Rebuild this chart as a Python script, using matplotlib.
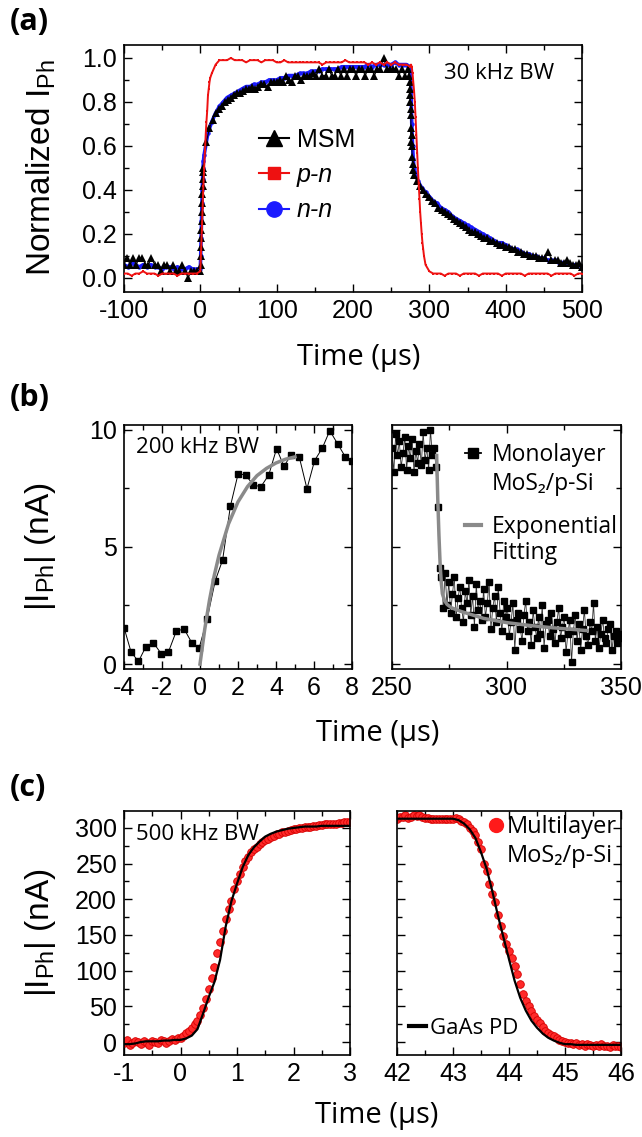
import numpy as np
import matplotlib
matplotlib.use('Agg')
import matplotlib.pyplot as plt
from matplotlib.lines import Line2D
from matplotlib.ticker import MultipleLocator, FormatStrFormatter

plt.rcParams['font.family'] = ['Liberation Sans', 'DejaVu Sans']
plt.rcParams['axes.unicode_minus'] = False
plt.rcParams['mathtext.fontset'] = 'custom'
plt.rcParams['mathtext.rm'] = 'Liberation Sans'
plt.rcParams['mathtext.it'] = 'Liberation Sans:italic'
plt.rcParams['mathtext.bf'] = 'Liberation Sans:bold'

# ---------------- data: panel (a) ----------------
# MSM (black triangles), sampled every 4 us from -100 to 500
msm_t = list(range(-100, 501, 4))
msm_y = [0.06, 0.09, 0.06, 0.09, 0.06, 0.09, 0.09, 0.06, 0.06, 0.09,
         0.06, 0.06, 0.03, 0.06, 0.06, 0.03, 0.06, 0.03, 0.03, 0.06,
         0.03, 0.00, 0.03, 0.03, 0.03,
         0.03, 0.50, 0.62, 0.68, 0.72, 0.75, 0.77, 0.78, 0.80, 0.81,
         0.82, 0.83, 0.84, 0.84, 0.85, 0.86, 0.86, 0.87, 0.86, 0.87,
         0.88, 0.88, 0.87, 0.89, 0.89, 0.89,
         0.90, 0.89, 0.92, 0.90, 0.89, 0.92, 0.92, 0.90, 0.92, 0.92,
         0.92, 0.93, 0.92, 0.95, 0.92, 0.92, 0.95, 0.92, 0.92, 0.95,
         0.92, 0.95, 0.92, 0.95, 0.95, 0.92, 0.95, 0.95, 0.92, 0.95,
         0.95, 0.92, 0.95, 0.95, 1.00, 0.95, 0.95, 0.95, 0.95, 0.92,
         0.95, 0.92, 0.95,
         0.62,
         0.47, 0.44, 0.42, 0.40, 0.38, 0.37, 0.35, 0.34, 0.32, 0.31,
         0.30, 0.29, 0.28, 0.27, 0.26, 0.25, 0.24, 0.23, 0.22, 0.21,
         0.21, 0.20, 0.19, 0.18, 0.18, 0.17, 0.17, 0.16, 0.15, 0.15,
         0.14, 0.14, 0.13, 0.13, 0.12, 0.12, 0.11, 0.11, 0.10, 0.10,
         0.10, 0.09, 0.09, 0.09, 0.12, 0.08, 0.08, 0.08, 0.07, 0.07,
         0.08, 0.07, 0.06, 0.06, 0.07, 0.05]
# extra MSM samples on the fast edges
msm_edge_t = [0.3, 0.6, 0.9, 1.2, 1.5, 1.8, 2.1, 2.4, 2.7, 3.0, 3.3, 3.6,
              274, 274.3, 274.6, 274.9, 275.2, 275.5, 275.8, 276.4, 276.7,
              277, 277.5, 278, 279]
msm_edge_y = [0.06, 0.10, 0.14, 0.18, 0.22, 0.26, 0.30, 0.34, 0.38, 0.42, 0.45, 0.48,
              0.92, 0.89, 0.86, 0.83, 0.80, 0.77, 0.74, 0.68, 0.65,
              0.60, 0.55, 0.52, 0.49]

# n-n (blue), every 5 us
nn_t = list(range(-100, 501, 5))
nn_y = [0.06, 0.05, 0.07, 0.06, 0.05, 0.06, 0.05, 0.06, 0.05, 0.05,
        0.04, 0.05, 0.05, 0.04, 0.05, 0.04, 0.04, 0.05, 0.04, 0.04,
        0.04, 0.56, 0.66, 0.71, 0.75, 0.78, 0.80, 0.82, 0.83, 0.84,
        0.85, 0.86, 0.87, 0.87, 0.88, 0.88, 0.89, 0.89, 0.90, 0.90,
        0.90, 0.91, 0.91, 0.92, 0.92, 0.92, 0.93, 0.93, 0.93, 0.94,
        0.94, 0.94, 0.95, 0.95, 0.95, 0.95, 0.95, 0.96, 0.96, 0.96,
        0.96, 0.96, 0.96, 0.96, 0.97, 0.96, 0.97, 0.97, 0.97, 0.97,
        0.97, 0.98, 0.97, 0.97, 0.97,
        0.96, 0.50, 0.44, 0.41, 0.39, 0.37, 0.35, 0.34, 0.32, 0.31,
        0.30, 0.28, 0.27, 0.26, 0.25, 0.24, 0.23, 0.22, 0.21, 0.20,
        0.19, 0.18, 0.17, 0.16, 0.16, 0.15, 0.14, 0.13, 0.13, 0.12,
        0.11, 0.11, 0.10, 0.10, 0.09, 0.09, 0.08, 0.08, 0.08, 0.07,
        0.07, 0.07, 0.06, 0.06, 0.06, 0.05]
nn_edge_t = [0.5, 1, 1.5, 2, 2.5, 3, 3.5, 4, 276, 277, 278, 279]
nn_edge_y = [0.10, 0.18, 0.26, 0.34, 0.40, 0.45, 0.50, 0.53, 0.85, 0.70, 0.60, 0.54]

# p-n (red), every 5 us
pn_t = list(range(-100, 501, 5))
pn_y = [0.02, 0.02, 0.01, 0.02, 0.02, 0.03, 0.02, 0.02, 0.02, 0.01,
        0.02, 0.02, 0.02, 0.02, 0.01, 0.02, 0.02, 0.02, 0.02, 0.02,
        0.03, 0.50, 0.83, 0.93, 0.97, 0.99, 0.99, 0.99, 1.00, 0.99,
        0.99, 0.99, 0.98, 0.99, 0.99, 0.99, 0.98, 0.99, 0.99, 0.99,
        0.98, 0.98, 0.99, 0.98, 0.98, 0.98, 0.98, 0.98, 0.98, 0.98,
        0.98, 0.98, 0.97, 0.98, 0.98, 0.98, 0.98, 0.98, 0.99, 0.98,
        0.98, 0.98, 0.98, 0.98, 0.97, 0.98, 0.97, 0.98, 0.97, 0.98,
        0.97, 0.98, 0.97, 0.97, 0.97,
        0.96, 0.85, 0.50, 0.20, 0.06, 0.03, 0.02, 0.02, 0.02, 0.01,
        0.02, 0.02, 0.02, 0.01, 0.02, 0.02, 0.02, 0.02, 0.01, 0.02,
        0.02, 0.02, 0.02, 0.02, 0.01, 0.02, 0.02, 0.02, 0.02, 0.02,
        0.01, 0.02, 0.02, 0.02, 0.02, 0.02, 0.02, 0.01, 0.02, 0.02,
        0.02, 0.02, 0.02, 0.01, 0.02, 0.02]
pn_edge_t = [1, 2, 3, 4, 6, 7, 8, 9, 11, 12, 13,
             276, 277, 278, 279, 281, 282, 283, 284, 286, 287, 288, 289, 291, 292, 293]
pn_edge_y = [0.12, 0.22, 0.32, 0.42, 0.58, 0.65, 0.71, 0.76, 0.86, 0.89, 0.91,
             0.97, 0.96, 0.93, 0.89, 0.80, 0.73, 0.65, 0.57, 0.43, 0.36, 0.30, 0.25, 0.16, 0.13, 0.10]

# ---------------- data: panel (b) ----------------
b_rise_t = [-4.0, -3.63, -3.24, -2.85, -2.46, -2.03, -1.66, -1.24, -0.83, -0.44,
            -0.05, 0.38, 0.80, 1.19, 1.60, 2.01, 2.40, 2.81, 3.20, 3.62,
            4.03, 4.42, 4.79, 5.22, 5.63, 6.03, 6.44, 6.83, 7.24, 7.65, 8.0]
b_rise_y = [1.56, 0.52, 0.11, 0.74, 0.92, 0.43, 0.52, 1.42, 1.49, 0.92,
            0.67, 1.94, 3.55, 4.44, 6.74, 8.13, 8.06, 7.65, 7.56, 8.07,
            9.19, 8.44, 8.92, 8.85, 7.48, 8.68, 9.22, 9.96, 9.40, 8.84, 8.65]
b_rise_fit_t = [0, 0.25, 0.5, 0.75, 1, 1.5, 2, 2.5, 3, 3.5, 4, 4.5, 5]
b_rise_fit_y = [0, 1.49, 2.73, 3.78, 4.64, 5.98, 6.92, 7.57, 8.04, 8.35, 8.58, 8.74, 8.84]

b_fall_y = [9.2, 8.2, 9.8, 8.9, 9.5, 8.4, 9.0, 9.7, 8.3, 9.3,
            8.8, 9.6, 8.2, 9.1, 8.6, 9.4, 8.5, 9.9, 8.7, 9.2,
            8.3, 10.0, 8.9, 9.2, 8.4,
            6.7, 4.1, 3.7, 2.4, 3.9,
            2.5, 3.5, 2.2, 3.0, 3.7, 2.0, 2.8, 3.3, 2.4, 1.8,
            3.1, 2.6, 3.6, 2.1, 2.9, 1.6, 3.4, 2.3, 2.7, 1.9,
            3.2, 2.0, 2.6, 3.5, 1.5, 2.4, 2.9, 1.8, 3.3, 2.2,
            1.4, 2.7, 2.0,
            2.4, 1.2, 1.8, 2.6, 0.6, 1.9, 2.2, 1.5, 1.0, 2.1,
            2.7, 1.4, 1.8, 0.8, 2.3, 1.6, 1.1, 2.0, 1.3, 2.5,
            0.7, 1.7, 1.9, 1.2, 2.2, 1.5, 0.9, 1.8, 2.4, 1.1,
            1.6, 2.0, 0.5, 1.3, 1.9, 0.1, 1.4, 2.1, 1.0, 1.7,
            0.6, 1.5, 2.3, 1.2, 0.8, 1.8, 1.4, 2.6, 1.0, 1.6,
            0.7, 1.3, 1.9, 1.1, 0.9, 1.5, 1.7, 0.6, 1.2, 1.4,
            0.9, 1.3, 1.1]
b_fall_t = [250 + 0.8 * i for i in range(len(b_fall_y))]
b_fall_fit_t = [269.5, 270, 270.5, 271, 271.5, 272, 273, 274, 276, 280, 285, 290, 300, 310, 320, 335]
b_fall_fit_y = [8.9, 7.0, 5.5, 4.3, 3.5, 3.0, 2.7, 2.55, 2.4, 2.25, 2.1, 1.95, 1.77, 1.65, 1.55, 1.43]

# ---------------- data: panel (c) ----------------
c_rise_y = [-2, 3, -4, -1, 2, 0, -3, 1, -2, -4, 2, 0, -1, 3, 1, -2, 2, 4, 3, 5,
            5, 8, 12, 15, 20, 25, 30, 38, 48, 60, 75, 90, 105, 125, 140, 155, 172, 186, 198, 214,
            226, 236, 246, 254, 260, 266, 270, 274, 277, 280, 283, 285, 287, 289, 291, 292, 294, 295, 296, 297,
            298, 299, 300, 300, 301, 302, 302, 303, 303, 304, 304, 305, 305, 305, 306, 306, 307, 307, 308, 308, 309]
c_rise_t = [-1 + 0.05 * i for i in range(len(c_rise_y))]
gaas_rise_y = [-3, -3, -2, 0, 1, 1, 1, 2, 2, 3,
               3, 5, 9, 18, 40, 63, 84, 115, 162, 197,
               222, 245, 262, 273, 281, 288, 292, 295, 297, 299,
               300, 301, 302, 302, 302, 303, 303, 303, 303, 303, 303]
gaas_rise_t = [-1 + 0.1 * i for i in range(len(gaas_rise_y))]

c_fall_y = [313, 315, 316, 318, 314, 316, 318, 317, 318, 315, 314, 314, 313, 313, 313, 313, 313, 313, 313, 313,
            313, 314, 312, 310, 308, 306, 300, 296, 290, 280, 270, 250, 240, 222, 208, 196, 178, 162, 148, 138,
            127, 118, 106, 95, 82, 68, 58, 50, 44, 37, 31, 26, 21, 16, 13, 10, 8, 5, 3, 1,
            0, -1, -2, -3, -2, -4, -3, -5, -3, -4, -6, -4, -5, -3, -6, -5, -7, -4, -6, -5, -7]
c_fall_t = [42 + 0.05 * i for i in range(len(c_fall_y))]
gaas_fall_y = [313, 313, 313, 313, 313, 313, 313, 313, 313, 313, 313,
               311, 306, 298, 286, 266, 243, 212, 178, 147, 116,
               86, 62, 44, 30, 20, 12, 6, 2, -1, -3,
               -3, -4, -4, -4, -4, -4, -4, -4, -4, -4]
gaas_fall_t = [42 + 0.1 * i for i in range(len(gaas_fall_y))]

# ---------------- figure ----------------
W, H = 642, 1137
fig = plt.figure(figsize=(W / 100, H / 100), dpi=100)
ANNOT = ['Open Sans', 'DejaVu Sans']
TICKFS = 18
RED = '#ee1111'
BLUE = '#1a1aff'


def rect(l, t, r, b):
    return [l / W, 1 - b / H, (r - l) / W, (b - t) / H]


def style(ax, xmaj, xmin, ymaj, ymin, ylabels=True, fs=TICKFS):
    ax.xaxis.set_major_locator(MultipleLocator(xmaj))
    ax.xaxis.set_minor_locator(MultipleLocator(xmin))
    ax.yaxis.set_major_locator(MultipleLocator(ymaj))
    ax.yaxis.set_minor_locator(MultipleLocator(ymin))
    ax.tick_params(which='both', direction='in', top=True, right=True,
                   width=1.0, labelsize=fs, pad=5)
    ax.tick_params(which='major', length=6)
    ax.tick_params(which='minor', length=3.5)
    if not ylabels:
        ax.tick_params(labelleft=False)
    for s in ax.spines.values():
        s.set_linewidth(1.2)


def merged(t1, y1, t2, y2):
    t = np.concatenate([np.asarray(t1, float), np.asarray(t2, float)])
    y = np.concatenate([np.asarray(y1, float), np.asarray(y2, float)])
    o = np.argsort(t, kind='stable')
    return t[o], y[o]


# ----- panel (a)
axA = fig.add_axes(rect(124, 45, 582, 292))
t, y = merged(nn_t, nn_y, nn_edge_t, nn_edge_y)
axA.plot(t, y, color=BLUE, lw=2.6, marker='o', ms=3.2, mew=0, zorder=2)
t, y = merged(msm_t, msm_y, msm_edge_t, msm_edge_y)
axA.plot(t, y, color='black', lw=0.7, marker='^', ms=5.5, mew=0, zorder=3)
t, y = merged(pn_t, pn_y, pn_edge_t, pn_edge_y)
axA.plot(t, y, color=RED, lw=1.4, marker='s', ms=1.8, mew=0, zorder=4)
axA.set_xlim(-100, 500)
axA.set_ylim(-0.064, 1.059)
style(axA, 100, 50, 0.2, 0.1)
axA.yaxis.set_major_formatter(FormatStrFormatter('%.1f'))
axA.text(0.699, 0.883, '30 kHz BW', transform=axA.transAxes, family=ANNOT,
         fontsize=16, va='center', ha='left')
hA = [Line2D([], [], color='black', marker='^', ms=11, lw=1.5),
      Line2D([], [], color=RED, marker='s', ms=9, lw=1.5),
      Line2D([], [], color=BLUE, marker='o', ms=11, lw=1.5)]
legA = axA.legend(hA, ['MSM', 'p-n', 'n-n'], loc='upper left',
                  bbox_to_anchor=(0.295, 0.664), frameon=False, fontsize=18,
                  handlelength=1.2, handletextpad=0.3, labelspacing=0.45,
                  borderpad=0, borderaxespad=0)
legA.get_texts()[1].set_fontstyle('italic')
legA.get_texts()[2].set_fontstyle('italic')

# ----- panel (b)
axB1 = fig.add_axes(rect(124, 425, 352, 669))
axB1.plot(b_rise_t, b_rise_y, color='black', lw=0.7, marker='s', ms=5, zorder=2)
axB1.plot(b_rise_fit_t, b_rise_fit_y, color='#8a8a8a', lw=2.5, zorder=3)
axB1.set_xlim(-4, 8)
axB1.set_ylim(-0.21, 10.2)
style(axB1, 2, 1, 5, 2.5)
axB1.text(0.053, 0.906, '200 kHz BW', transform=axB1.transAxes, family=ANNOT,
          fontsize=16, va='center', ha='left')

axB2 = fig.add_axes(rect(392, 425, 621, 669))
axB2.plot(b_fall_t, b_fall_y, color='#333333', lw=0.6, marker='s', ms=5,
          mfc='black', mec='black', zorder=2)
axB2.plot(b_fall_fit_t, b_fall_fit_y, color='#8a8a8a', lw=2.5, zorder=3)
axB2.set_xlim(250, 350)
axB2.set_ylim(-0.21, 10.2)
style(axB2, 50, 25, 5, 2.5, ylabels=False)
blank = Line2D([], [], linestyle='none')
legB1 = axB2.legend([Line2D([], [], color='black', marker='s', ms=7, lw=1.3), blank],
                    ['Monolayer', 'MoS₂/p-Si'], loc='upper left',
                    bbox_to_anchor=(0.319, 0.926), frameon=False,
                    prop={'family': ANNOT, 'size': 16.5},
                    handlelength=0.7, handletextpad=0.45, labelspacing=0.2,
                    borderpad=0, borderaxespad=0)
axB2.add_artist(legB1)
axB2.legend([Line2D([], [], color='#8a8a8a', lw=3), blank],
            ['Exponential', 'Fitting'], loc='upper left',
            bbox_to_anchor=(0.319, 0.631), frameon=False,
            prop={'family': ANNOT, 'size': 16.5},
            handlelength=0.7, handletextpad=0.45, labelspacing=0.1,
            borderpad=0, borderaxespad=0)

# ----- panel (c)
axC1 = fig.add_axes(rect(124, 811, 350, 1055))
axC1.plot(c_rise_t, c_rise_y, linestyle='none', marker='o', ms=5.5,
          mfc='#ff2a2a', mec='#d40000', mew=0.6, zorder=2)
axC1.plot(gaas_rise_t, gaas_rise_y, color='black', lw=1.6, zorder=3)
axC1.set_xlim(-1, 3)
axC1.set_ylim(-18.2, 323.8)
style(axC1, 1, 0.5, 50, 25)
axC1.text(0.053, 0.902, '500 kHz BW', transform=axC1.transAxes, family=ANNOT,
          fontsize=16, va='center', ha='left')

axC2 = fig.add_axes(rect(397, 811, 621, 1055))
axC2.plot(c_fall_t, c_fall_y, linestyle='none', marker='o', ms=5.5,
          mfc='#ff2a2a', mec='#d40000', mew=0.6, zorder=2)
axC2.plot(gaas_fall_t, gaas_fall_y, color='black', lw=1.6, zorder=3)
axC2.set_xlim(42, 46)
axC2.set_ylim(-18.2, 323.8)
style(axC2, 1, 0.5, 50, 25, ylabels=False)
legC1 = axC2.legend([Line2D([], [], linestyle='none', marker='o', ms=10,
                            mfc='#ff1a1a', mec='#ff1a1a'), blank],
                    ['Multilayer', 'MoS₂/p-Si'], loc='upper left',
                    bbox_to_anchor=(0.415, 0.984), frameon=False,
                    prop={'family': ANNOT, 'size': 17},
                    handlelength=0.5, handletextpad=0.2, labelspacing=0.2,
                    borderpad=0, borderaxespad=0)
axC2.add_artist(legC1)
axC2.legend([Line2D([], [], color='black', lw=3)], ['GaAs PD'], loc='upper left',
            bbox_to_anchor=(0.054, 0.152), frameon=False,
            prop={'family': ANNOT, 'size': 16},
            handlelength=0.75, handletextpad=0.2, borderpad=0, borderaxespad=0)

# ----- labels
for lab, yc in [('(a)', 22), ('(b)', 398), ('(c)', 788)]:
    fig.text(10 / W, 1 - yc / H, lab, family=ANNOT, weight='bold', fontsize=22,
             va='center', ha='left')
fig.text(41 / W, 1 - 168 / H, 'Normalized I$_{\\rm Ph}$', rotation=90,
         ha='center', va='center', fontsize=24)
fig.text(40 / W, 1 - 547 / H, '|I$_{\\rm Ph}$| (nA)', rotation=90,
         ha='center', va='center', fontsize=24)
fig.text(40 / W, 1 - 933 / H, '|I$_{\\rm Ph}$| (nA)', rotation=90,
         ha='center', va='center', fontsize=24)
for xc, yc in [(359, 357), (378, 733), (377, 1115)]:
    fig.text(xc / W, 1 - yc / H, 'Time (µs)', family=ANNOT, fontsize=21,
             ha='center', va='center')

fig.savefig('out.png', dpi=100)
